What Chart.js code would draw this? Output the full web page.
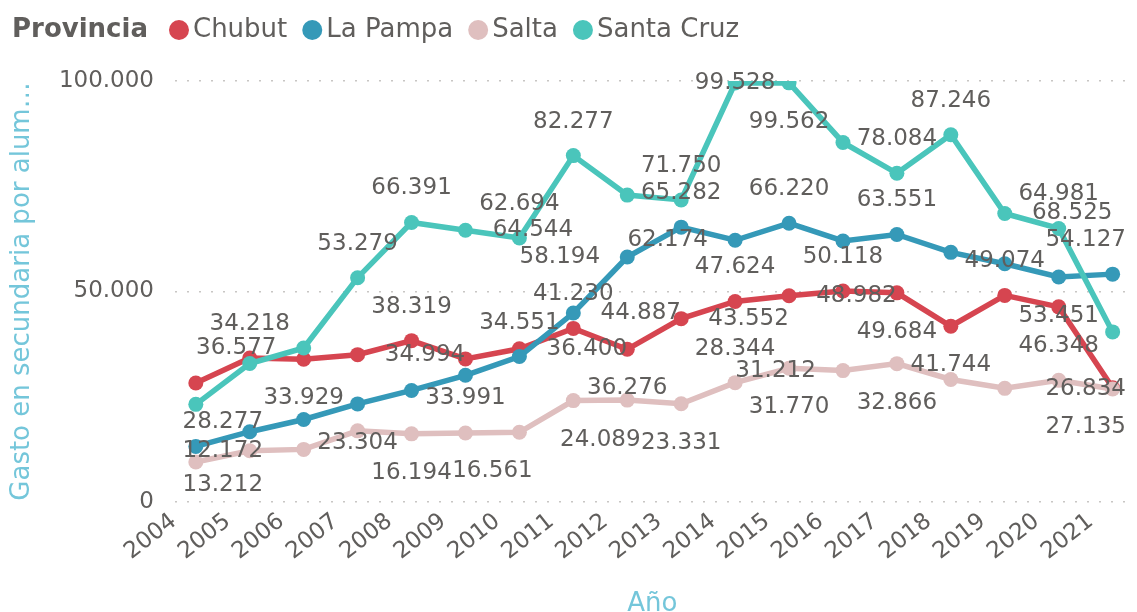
<!DOCTYPE html>
<html>
<head>
<meta charset="utf-8">
<script src="https://cdn.jsdelivr.net/npm/chart.js@4.4.1/dist/chart.umd.min.js"></script>
<style>
  html, body { margin: 0; padding: 0; background: #fff; }
</style>
</head>
<body>
<canvas id="chart" width="1137" height="612"></canvas>
<script>
// values
var years = [2004, 2005, 2006, 2007, 2008, 2009, 2010, 2011, 2012, 2013, 2014, 2015, 2016, 2017, 2018, 2019, 2020, 2021];
var provincias = ['Chubut', 'La Pampa', 'Salta', 'Santa Cruz'];
var chubut    = [28277, 34218, 33929, 34994, 38319, 33991, 36400, 41230, 36276, 43552, 47624, 48982, 50118, 49684, 41744, 49074, 46348, 27135];
var laPampa   = [13212, 16700, 19600, 23304, 26500, 30100, 34551, 44887, 58194, 65282, 62174, 66220, 62000, 63551, 59300, 56600, 53451, 54127];
var salta     = [9500, 12172, 12500, 16900, 16194, 16400, 16561, 24089, 24200, 23331, 28344, 31770, 31212, 32866, 29100, 27000, 28900, 26834];
var santaCruz = [23200, 32900, 36577, 53279, 66391, 64544, 62694, 82277, 72900, 71750, 99528, 99562, 85400, 78084, 87246, 68525, 64981, 40400];
var yTicks = [0, 50000, 100000];

var colores = ['#D64550', '#3599B8', '#DFBFBF', '#4AC5BB'];

// where each data label sits relative to its point ('' = hidden, like power bi does)
var labelPos = [
  ['SE','N','S','E','N','S','E','N','S','E','N','E','N','S','S','N','S','SW'],
  ['SE','','','S','','','N','E','W','N','W','N','','N','','','S','NW'],
  ['','w','','','S','','SW','SE','','S','N','S','W','S','','','','w'],
  ['','','W','N','N','E','N','N','','N','C','S','','N','N','E','N','']
];
var OFF = { N: [0, -34], S: [0, 39], C: [0, 0], E: [1.25, 0], W: [-1.25, 0], w: [-0.5, 0],
            NW: [-0.5, -34], SE: [0.5, 39], SW: [-0.5, 39] };

var txt = '#605E5C';
var tituloColor = '#74C6DA';

function fmt(v) {
  return String(Math.round(v)).replace(/\B(?=(\d{3})+(?!\d))/g, '.');
}

var dataLabels = {
  id: 'dataLabels',
  afterDatasetsDraw: function (chart) {
    var ctx = chart.ctx;
    var x = chart.scales.x;
    var step = x.getPixelForValue(years[1]) - x.getPixelForValue(years[0]);
    ctx.save();
    ctx.font = '23px "DejaVu Sans"';
    ctx.fillStyle = txt;
    ctx.textAlign = 'center';
    ctx.textBaseline = 'middle';
    chart.data.datasets.forEach(function (ds, di) {
      var meta = chart.getDatasetMeta(di);
      meta.data.forEach(function (pt, i) {
        var code = labelPos[di][i];
        if (!code) return;
        var o = OFF[code];
        ctx.fillText(fmt(ds.data[i]), pt.x + o[0] * step, pt.y + o[1]);
      });
    });
    ctx.restore();
  }
};

var leyenda = {
  id: 'leyenda',
  afterDraw: function (chart) {
    var ctx = chart.ctx;
    var y = 30;
    ctx.save();
    ctx.textBaseline = 'middle';
    ctx.textAlign = 'left';
    ctx.fillStyle = txt;
    ctx.font = 'bold 26px "DejaVu Sans"';
    ctx.fillText('Provincia', 12, y);
    var x = 12 + ctx.measureText('Provincia').width + 31;
    ctx.font = '26px "DejaVu Sans"';
    chart.data.datasets.forEach(function (ds) {
      ctx.fillStyle = ds.borderColor;
      ctx.beginPath();
      ctx.arc(x, y, 10, 0, Math.PI * 2);
      ctx.fill();
      ctx.fillStyle = txt;
      ctx.fillText(ds.label, x + 14, y);
      x += 14 + ctx.measureText(ds.label).width + 25;
    });
    ctx.restore();
  }
};

var series = [chubut, laPampa, salta, santaCruz];

var ctx = document.getElementById('chart');
var chart = new Chart(ctx, {
  type: 'line',
  data: {
    labels: years,
    datasets: series.map(function (s, i) {
      return {
        label: provincias[i],
        data: s,
        borderColor: colores[i],
        backgroundColor: colores[i],
        pointBackgroundColor: colores[i],
        borderWidth: 5.5,
        pointRadius: 7.5,
        pointBorderWidth: 0,
        pointHoverRadius: 7.5,
        tension: 0,
        order: series.length - 1 - i
      };
    })
  },
  options: {
    responsive: false,
    animation: false,
    layout: { padding: { top: 81, left: 0, right: 0, bottom: 0 } },
    plugins: {
      legend: { display: false },
      tooltip: { enabled: false }
    },
    scales: {
      x: {
        type: 'linear',
        min: 2003.614,
        max: 2021.313,
        afterBuildTicks: function (s) {
          s.ticks = years.map(function (v) { return { value: v }; });
        },
        afterFit: function (s) { s.height = 110; },
        grid: { display: false, drawTicks: false },
        border: { display: false },
        ticks: {
          autoSkip: false,
          minRotation: 38,
          maxRotation: 38,
          padding: 6,
          labelOffset: -22,
          color: txt,
          font: { family: 'DejaVu Sans', size: 23 },
          callback: function (v) { return String(v); }
        },
        title: {
          display: true,
          text: 'Año',
          color: tituloColor,
          font: { family: 'DejaVu Sans', size: 26 },
          padding: { top: 0, bottom: -8 }
        }
      },
      y: {
        min: 0,
        max: 100000,
        afterBuildTicks: function (s) {
          s.ticks = yTicks.map(function (v) { return { value: v }; });
        },
        afterFit: function (s) { s.width = 175; },
        grid: {
          color: '#C8C6C4',
          lineWidth: 1.5,
          drawTicks: false
        },
        border: { display: false, dash: [2, 10] },
        ticks: {
          padding: 21,
          color: txt,
          font: { family: 'DejaVu Sans', size: 23 },
          callback: function (v) { return fmt(v); }
        },
        title: {
          display: true,
          text: 'Gasto en secundaria por alum…',
          color: tituloColor,
          font: { family: 'DejaVu Sans', size: 26 },
          padding: { top: 7, bottom: 0 }
        }
      }
    }
  },
  plugins: [dataLabels, leyenda]
});
</script>
</body>
</html>
